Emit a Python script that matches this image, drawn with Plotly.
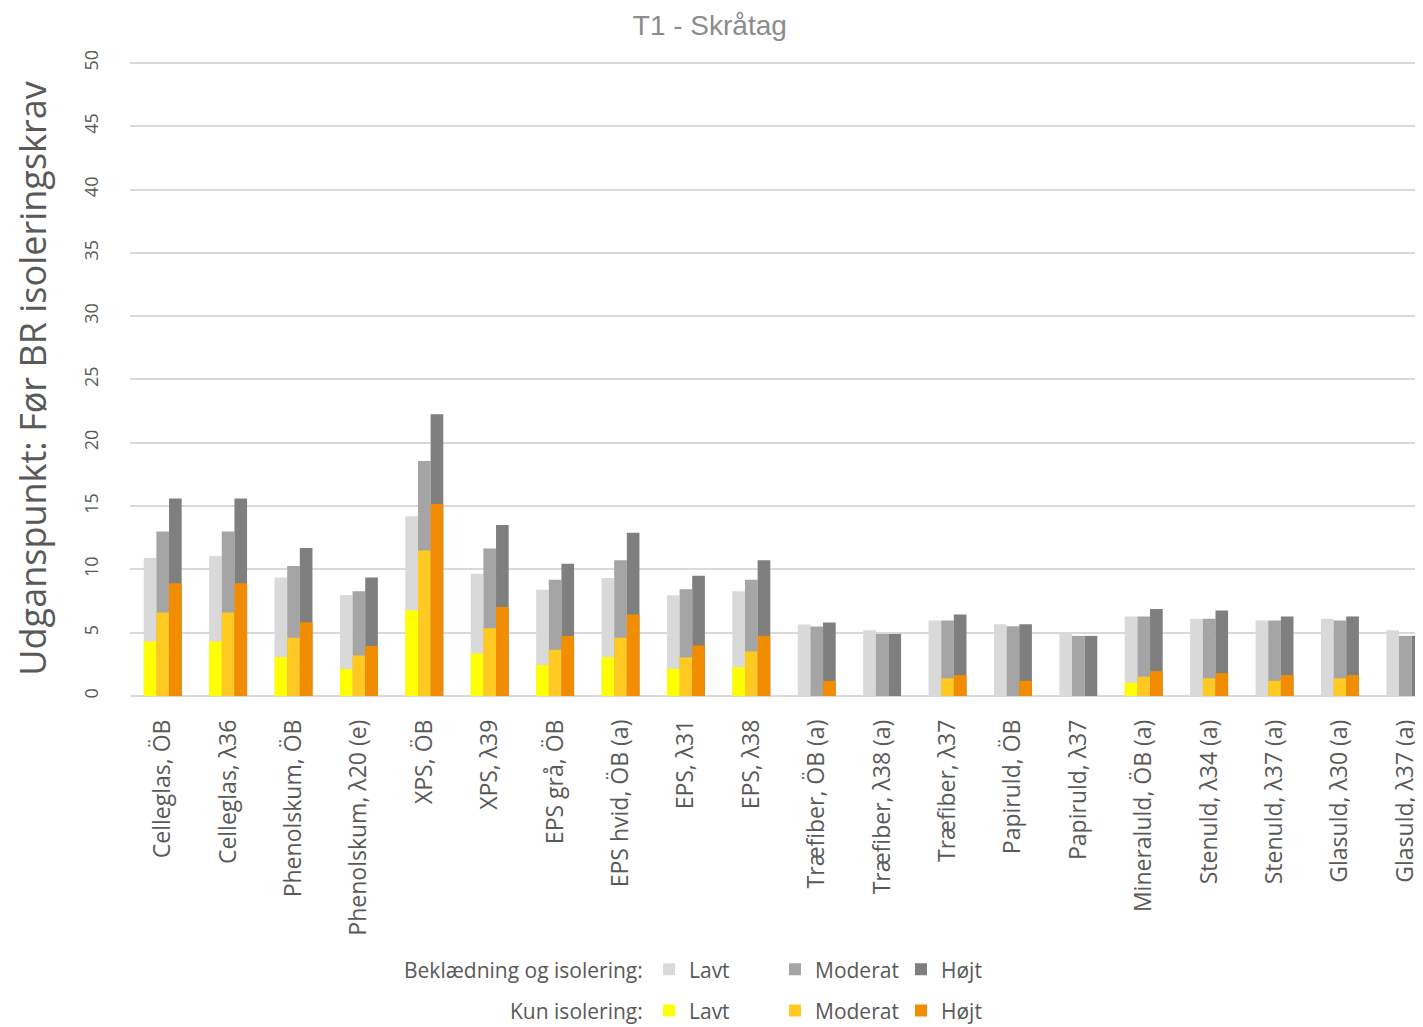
import plotly.graph_objects as go

categories = ["Celleglas, ÖB", "Celleglas, λ36", "Phenolskum, ÖB", "Phenolskum, λ20 (e)",
              "XPS, ÖB", "XPS, λ39", "EPS grå, ÖB", "EPS hvid, ÖB (a)", "EPS, λ31", "EPS, λ38",
              "Træfiber, ÖB (a)", "Træfiber, λ38 (a)", "Træfiber, λ37", "Papiruld, ÖB",
              "Papiruld, λ37", "Mineraluld, ÖB (a)", "Stenuld, λ34 (a)", "Stenuld, λ37 (a)",
              "Glasuld, λ30 (a)", "Glasuld, λ37 (a)"]

# Beklædning og isolering
bek_lavt = [10.9, 11.05, 9.35, 7.98, 14.2, 9.66, 8.4, 9.31, 7.95, 8.27,
            5.64, 5.2, 5.96, 5.67, 4.98, 6.27, 6.1, 5.96, 6.1, 5.2]
bek_moderat = [13.0, 13.0, 10.26, 8.27, 18.55, 11.65, 9.19, 10.73, 8.43, 9.19,
               5.49, 4.9, 5.96, 5.5, 4.75, 6.27, 6.1, 5.96, 5.96, 4.75]
bek_hojt = [15.6, 15.6, 11.68, 9.35, 22.26, 13.5, 10.45, 12.89, 9.5, 10.73,
            5.8, 4.9, 6.43, 5.67, 4.75, 6.87, 6.75, 6.27, 6.27, 4.75]

# Kun isolering
kun_lavt = [4.3, 4.3, 3.07, 2.13, 6.77, 3.36, 2.44, 3.07, 2.15, 2.28,
            0, 0, 0, 0, 0, 1.05, 0, 0, 0, 0]
kun_moderat = [6.6, 6.6, 4.6, 3.2, 11.5, 5.35, 3.65, 4.6, 3.05, 3.52,
               0, 0, 1.4, 0, 0, 1.52, 1.4, 1.2, 1.4, 0]
kun_hojt = [8.9, 8.9, 5.83, 3.96, 15.17, 7.03, 4.75, 6.43, 3.99, 4.75,
            1.2, 0, 1.65, 1.2, 0, 1.97, 1.8, 1.65, 1.65, 0]

font = "Open Sans"
txt = "#595959"

fig = go.Figure()
series = [
    (bek_lavt, "Lavt", "#d9d9d9", "L", "legend"),
    (bek_moderat, "Moderat", "#a5a5a5", "M", "legend"),
    (bek_hojt, "Højt", "#7f7f7f", "H", "legend"),
    (kun_lavt, "Lavt", "#ffff00", "L", "legend2"),
    (kun_moderat, "Moderat", "#ffc922", "M", "legend2"),
    (kun_hojt, "Højt", "#f28c00", "H", "legend2"),
]
for vals, name, color, grp, leg in series:
    fig.add_trace(go.Bar(x=categories, y=vals, name=name, offsetgroup=grp,
                         marker=dict(color=color, line=dict(width=0)), legend=leg))

legend_style = dict(orientation="h", xanchor="left", yanchor="middle",
                    font=dict(family=font, size=21, color=txt),
                    entrywidth=81, entrywidthmode="pixels", bgcolor="rgba(0,0,0,0)",
                    traceorder="normal", itemclick=False)

# page body adds an 8px offset, so the figure is 8px smaller than the window
row1 = -0.431
row2 = -0.496
lx = (649 - 130) / 1293

fig.update_layout(
    width=1415, height=1019,
    margin=dict(l=122, r=0, t=53, b=331, autoexpand=False),
    paper_bgcolor="white", plot_bgcolor="white",
    barmode="group", bargap=0.42, bargroupgap=0,
    title=dict(text="T1 - Skråtag", x=0.496, xref="container", y=0.983, yanchor="middle",
               font=dict(family="Liberation Sans", size=28, color="#8c8c8c")),
    xaxis=dict(tickangle=-90, range=[-0.5, 19.27], showgrid=False, showline=False,
               ticks="", automargin=False, ticklabelstandoff=18,
               tickfont=dict(family=font, size=23, color=txt)),
    yaxis=dict(range=[0, 50.15], dtick=5, tickangle=-90, showgrid=True, gridcolor="#d9d9d9",
               gridwidth=1.5, zeroline=True, zerolinecolor="#d9d9d9", zerolinewidth=1.5,
               ticks="", ticklabelstandoff=27, automargin=False,
               tickfont=dict(family=font, size=18, color=txt),
               title=dict(text="Udganspunkt: Før BR isoleringskrav", standoff=32,
                          font=dict(family=font, size=36, color=txt))),
    legend=dict(x=lx, y=row1, **legend_style),
    legend2=dict(x=lx, y=row2, **legend_style),
)
for label, yy in [("Beklædning og isolering:", row1), ("Kun isolering:", row2)]:
    fig.add_annotation(text=label, x=(645 - 130) / 1293, xref="paper", y=yy, yref="paper",
                       showarrow=False, xanchor="right", yanchor="middle",
                       font=dict(family=font, size=21, color=txt))

fig.write_html("out.html")
